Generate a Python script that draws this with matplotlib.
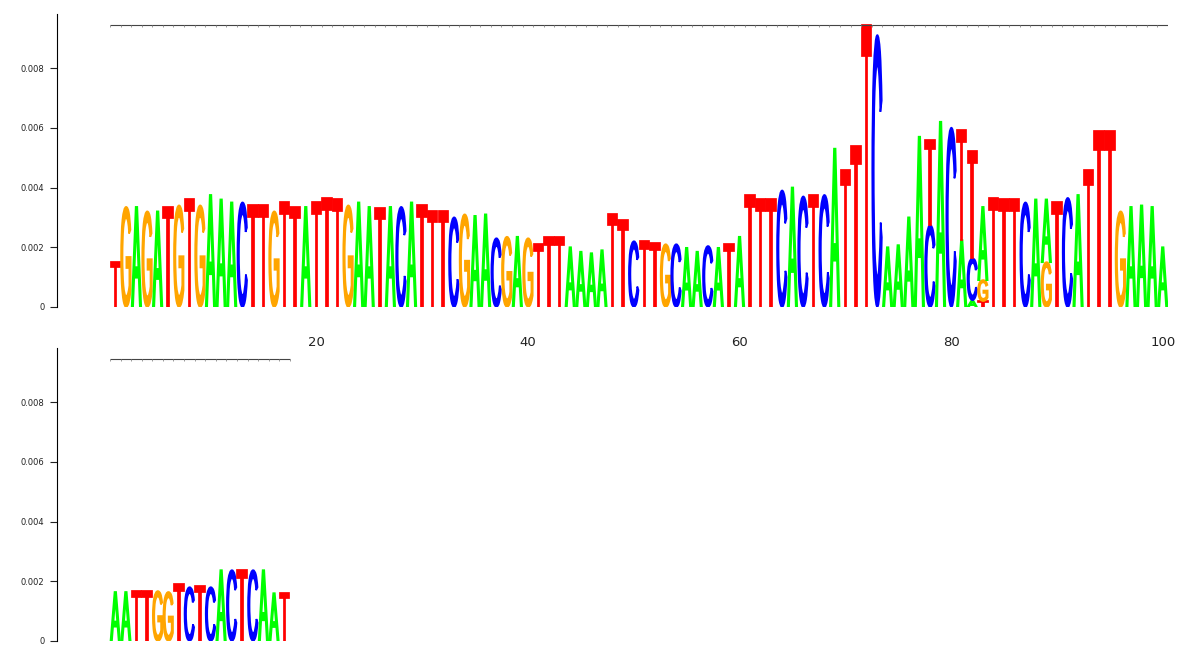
import matplotlib
matplotlib.use("Agg")
import matplotlib.pyplot as plt
from matplotlib.textpath import TextPath
from matplotlib.patches import PathPatch
from matplotlib.font_manager import FontProperties
from matplotlib.transforms import Affine2D

# ---------------- data ----------------
seq_top = ("TGAGATGTGA" "AACTTGTTAT" "TTGAATACAT" "TTCGAACGAG" "TTTAAAATTC"
           "TTGCAACATA" "TTTCACTCAT" "TTCAAAATAC" "TTATTTCAAT" "CATTTGAAAA")
heights_top = [
    0.0015, 0.00335, 0.00335, 0.0032, 0.0032, 0.00335, 0.0034, 0.0036, 0.0034, 0.00375,
    0.0036, 0.0035, 0.0035, 0.0034, 0.0034, 0.0032, 0.0035, 0.00335, 0.00335, 0.0035,
    0.00365, 0.0036, 0.0034, 0.0035, 0.00335, 0.0033, 0.00335, 0.00335, 0.0035, 0.0034,
    0.0032, 0.0032, 0.0030, 0.0031, 0.00305, 0.0031, 0.0023, 0.00235, 0.00235, 0.0023,
    0.0021, 0.00235, 0.00235, 0.0020, 0.00185, 0.0018, 0.0019, 0.0031, 0.0029, 0.0022,
    0.0022, 0.00215, 0.0021, 0.0021, 0.00198, 0.00185, 0.00204, 0.00198, 0.0021, 0.00235,
    0.00375, 0.0036, 0.0036, 0.0039, 0.0040, 0.0037, 0.00375, 0.00375, 0.0053, 0.0046,
    0.0054, 0.00944, 0.0091, 0.0020, 0.00207, 0.0030, 0.0057, 0.00285, 0.0062, 0.0060,
    0.0037, 0.0036, 0.00245, 0.00365, 0.0036, 0.0036, 0.0035, 0.0036, 0.0021, 0.0035,
    0.00365, 0.00375, 0.0046, 0.0059, 0.0059, 0.0032, 0.00335, 0.0034, 0.00335, 0.0020,
]
# additional (smaller) letters stacked in some columns of the top row
extra_pos = [78, 81, 82, 82, 83, 83, 89]
extra_letter = ["C", "A", "A", "C", "T", "G", "G"]
extra_height = [0.00274, 0.00224, 0.00023, 0.0014, 0.0002, 0.0007, 0.0015]

seq_bottom = "AATTGGTCTCACTCAAT"
heights_bottom = [0.00164, 0.00164, 0.00167, 0.00167, 0.00167, 0.00164, 0.0019, 0.0018, 0.00184,
                  0.0018, 0.00237, 0.00237, 0.00237, 0.00237, 0.00237, 0.0016, 0.0016]

y_ticks = [0, 0.002, 0.004, 0.006, 0.008]
y_ticklabels = ["0", "0.002", "0.004", "0.006", "0.008"]
x_ticks_top = [20, 40, 60, 80, 100]

colors = {"A": "#00ff00", "C": "#0000ff", "G": "#ffa500", "T": "#ff0000"}

# ---------------- drawing ----------------
fp = FontProperties(family="Liberation Sans", weight="normal")
glyph_cache = {}


def glyph(letter):
    if letter not in glyph_cache:
        tp = TextPath((0, 0), letter, size=1, prop=fp)
        glyph_cache[letter] = (tp, tp.get_extents())
    return glyph_cache[letter]


def draw_letter(ax, letter, x, y0, h, w=0.9):
    if h <= 0:
        return
    tp, bb = glyph(letter)
    tr = (Affine2D().translate(-bb.x0, -bb.y0)
          .scale(w / bb.width, h / bb.height)
          .translate(x - w / 2, y0))
    path = tr.transform_path(tp)
    ax.add_patch(PathPatch(path, facecolor=colors[letter], edgecolor=colors[letter],
                           lw=1.25, joinstyle="miter"))


def build_stacks(seq, heights, epos=(), elet=(), eh=()):
    stacks = [[(l, h)] for l, h in zip(seq, heights)]
    for p, l, h in zip(epos, elet, eh):
        stacks[p - 1].append((l, h))
    return [sorted(s, key=lambda t: t[1]) for s in stacks]


YMAX = 0.009808
X0 = -4.51
X1 = 100.5

fig = plt.figure(figsize=(12, 6.67), dpi=100)
W, H = 1200, 667
ax1 = fig.add_axes([57 / W, 1 - 307 / H, (1168 - 57) / W, (307 - 14) / H])
ax2 = fig.add_axes([57 / W, 1 - 641 / H, (1168 - 57) / W, (641 - 348) / H])

stacks_top = build_stacks(seq_top, heights_top, extra_pos, extra_letter, extra_height)
stacks_bot = build_stacks(seq_bottom, heights_bottom)
line_level = max(sum(h for _, h in s) for s in stacks_top + stacks_bot)

for ax, stacks in ((ax1, stacks_top), (ax2, stacks_bot)):
    for i, s in enumerate(stacks, start=1):
        y = 0.0
        for l, h in s:
            draw_letter(ax, l, i, y, h)
            y += h
    n = len(stacks)
    ax.plot([0.5, n + 0.5], [line_level, line_level], color="#444444", lw=0.8,
            solid_capstyle="butt")
    ax.vlines([k + 0.5 for k in range(n + 1)], line_level - 0.00006, line_level,
              color="#888888", lw=0.6)
    ax.set_xlim(X0, X1)
    ax.set_ylim(0, YMAX)
    for sp in ("top", "right", "bottom"):
        ax.spines[sp].set_visible(False)
    ax.spines["left"].set_bounds(0, YMAX)
    ax.spines["left"].set_linewidth(0.8)
    ax.set_yticks(y_ticks)
    ax.set_yticklabels(y_ticklabels)
    ax.tick_params(axis="y", labelsize=6, length=5, width=0.8, pad=4, colors="#222222")

ax1.set_xticks(x_ticks_top)
ax1.set_xticklabels([str(t) for t in x_ticks_top])
ax1.tick_params(axis="x", length=0, labelsize=9.5, pad=21, colors="#222222")
ax2.set_xticks([])

fig.savefig("out.png", dpi=100)
